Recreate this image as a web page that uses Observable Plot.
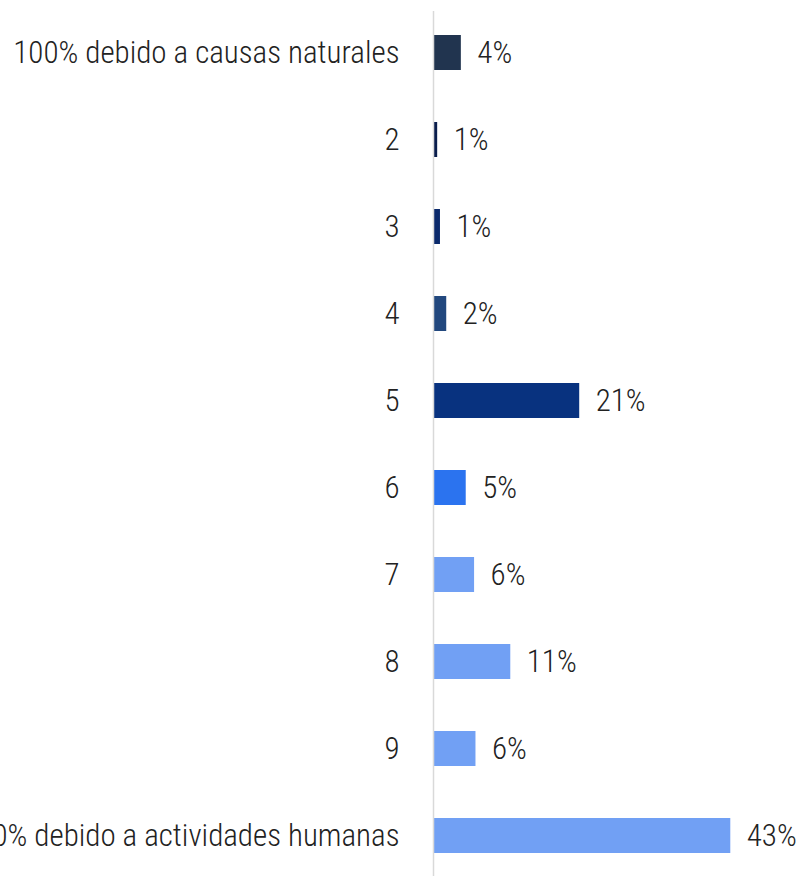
<!DOCTYPE html>
<html>
<head>
<meta charset="utf-8">
<script src="https://cdn.jsdelivr.net/npm/d3@7"></script>
<script src="https://cdn.jsdelivr.net/npm/@observablehq/plot@0.6"></script>
<style>
  html, body { margin: 0; padding: 0; background: #fff; }
  #chart svg text { font-family: "Roboto Condensed", Roboto, sans-serif; font-weight: 300; font-stretch: 75%; }
</style>
</head>
<body>
<div id="chart"></div>
<script>
const categories = [
  "100% debido a causas naturales", "2", "3", "4", "5", "6", "7", "8", "9",
  "100% debido a actividades humanas"
];
const values = [4.0, 0.6, 1.0, 1.9, 21.0, 4.7, 5.9, 11.1, 6.1, 42.7];
const valueLabels = ["4%", "1%", "1%", "2%", "21%", "5%", "6%", "11%", "6%", "43%"];
const colors = ["#21344f", "#0a1d4c", "#0b2a6c", "#22487e", "#08327f", "#2b73ef", "#71a0f4", "#71a0f4", "#71a0f4", "#71a0f4"];

const data = categories.map((c, i) => ({ cat: c, value: values[i], label: valueLabels[i], color: colors[i] }));

const chart = Plot.plot({
  width: 802,
  height: 876,
  marginLeft: 433,
  marginRight: 0,
  marginTop: 11,
  marginBottom: 0,
  style: { fontSize: "31px", color: "#222", background: "#fff" },
  x: { domain: [0, 53], axis: null },
  y: { domain: categories, paddingInner: 0.6, paddingOuter: 0.25, label: null, tickSize: 0, tickPadding: 34 },
  marks: [
    Plot.barX(data, { y: "cat", x: "value", fill: "color" }),
    Plot.ruleX([0], { stroke: "#d9d9d9", strokeWidth: 1.5 }),
    Plot.text(data, { y: "cat", x: "value", text: "label", textAnchor: "start", dx: 16, fill: "#222", fontSize: 31 })
  ]
});
document.getElementById("chart").appendChild(chart);
</script>
</body>
</html>
